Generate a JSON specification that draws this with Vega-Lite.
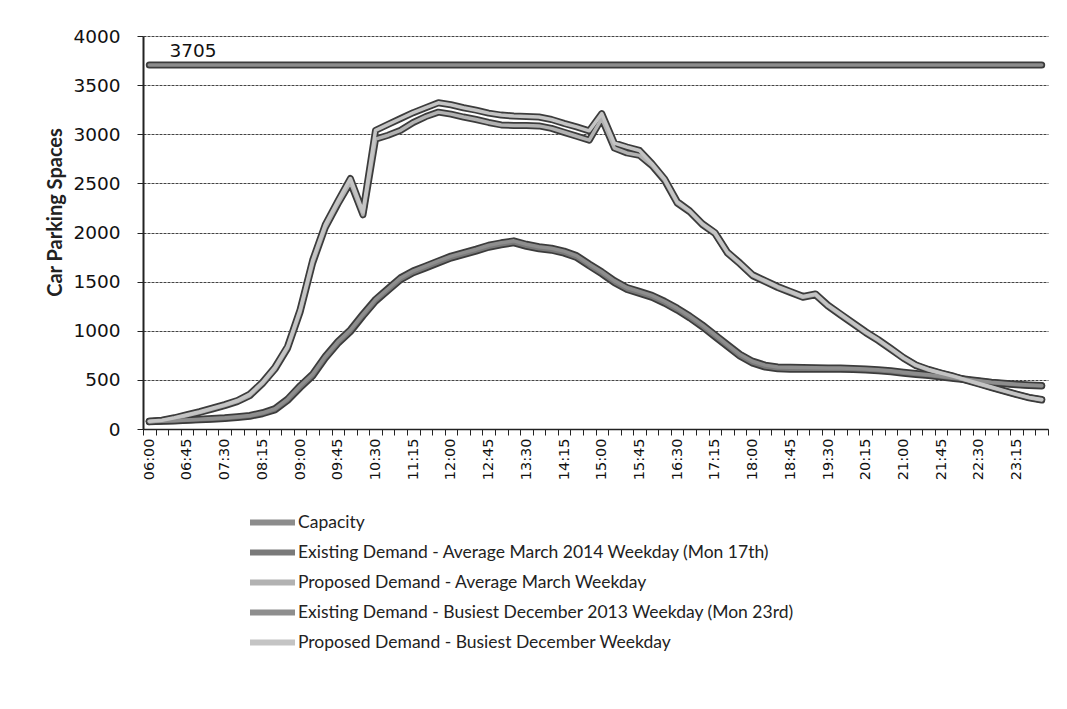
{
  "$schema": "https://vega.github.io/schema/vega-lite/v6.json",
  "width": 905,
  "height": 393,
  "autosize": {"type": "none"},
  "padding": {"left": 143, "top": 36, "right": 19, "bottom": 280},
  "background": "white",
  "config": {"view": {"stroke": null}, "font": "DejaVu Sans"},
  "data": {
    "values": [
      {"t": "06:00", "c": 3705, "em": 75, "ed": 80, "pm": 75, "pd": 80},
      {"t": "06:15", "c": 3705, "em": 78, "ed": 82, "pm": 85, "pd": 90},
      {"t": "06:30", "c": 3705, "em": 82, "ed": 86, "pm": 108, "pd": 114},
      {"t": "06:45", "c": 3705, "em": 88, "ed": 92, "pm": 138, "pd": 145},
      {"t": "07:00", "c": 3705, "em": 95, "ed": 100, "pm": 168, "pd": 176},
      {"t": "07:15", "c": 3705, "em": 100, "ed": 106, "pm": 203, "pd": 212},
      {"t": "07:30", "c": 3705, "em": 108, "ed": 114, "pm": 238, "pd": 248},
      {"t": "07:45", "c": 3705, "em": 118, "ed": 125, "pm": 278, "pd": 290},
      {"t": "08:00", "c": 3705, "em": 130, "ed": 138, "pm": 340, "pd": 355},
      {"t": "08:15", "c": 3705, "em": 155, "ed": 165, "pm": 460, "pd": 475},
      {"t": "08:30", "c": 3705, "em": 195, "ed": 208, "pm": 610, "pd": 630},
      {"t": "08:45", "c": 3705, "em": 290, "ed": 305, "pm": 820, "pd": 840},
      {"t": "09:00", "c": 3705, "em": 420, "ed": 440, "pm": 1190, "pd": 1215},
      {"t": "09:15", "c": 3705, "em": 540, "ed": 560, "pm": 1690, "pd": 1720},
      {"t": "09:30", "c": 3705, "em": 720, "ed": 740, "pm": 2050, "pd": 2080},
      {"t": "09:45", "c": 3705, "em": 870, "ed": 890, "pm": 2290, "pd": 2320},
      {"t": "10:00", "c": 3705, "em": 990, "ed": 1010, "pm": 2510, "pd": 2550},
      {"t": "10:15", "c": 3705, "em": 1150, "ed": 1170, "pm": 2180, "pd": 2210},
      {"t": "10:30", "c": 3705, "em": 1300, "ed": 1320, "pm": 2950, "pd": 3040},
      {"t": "10:45", "c": 3705, "em": 1410, "ed": 1430, "pm": 2990, "pd": 3100},
      {"t": "11:00", "c": 3705, "em": 1520, "ed": 1540, "pm": 3040, "pd": 3160},
      {"t": "11:15", "c": 3705, "em": 1590, "ed": 1610, "pm": 3120, "pd": 3220},
      {"t": "11:30", "c": 3705, "em": 1640, "ed": 1660, "pm": 3180, "pd": 3270},
      {"t": "11:45", "c": 3705, "em": 1690, "ed": 1710, "pm": 3225, "pd": 3320},
      {"t": "12:00", "c": 3705, "em": 1740, "ed": 1760, "pm": 3205, "pd": 3300},
      {"t": "12:15", "c": 3705, "em": 1775, "ed": 1795, "pm": 3175, "pd": 3270},
      {"t": "12:30", "c": 3705, "em": 1810, "ed": 1830, "pm": 3150, "pd": 3245},
      {"t": "12:45", "c": 3705, "em": 1850, "ed": 1870, "pm": 3120, "pd": 3215},
      {"t": "13:00", "c": 3705, "em": 1875, "ed": 1895, "pm": 3095, "pd": 3195},
      {"t": "13:15", "c": 3705, "em": 1895, "ed": 1915, "pm": 3090, "pd": 3185},
      {"t": "13:30", "c": 3705, "em": 1860, "ed": 1880, "pm": 3090, "pd": 3180},
      {"t": "13:45", "c": 3705, "em": 1835, "ed": 1855, "pm": 3085, "pd": 3175},
      {"t": "14:00", "c": 3705, "em": 1820, "ed": 1840, "pm": 3060, "pd": 3150},
      {"t": "14:15", "c": 3705, "em": 1790, "ed": 1810, "pm": 3020, "pd": 3110},
      {"t": "14:30", "c": 3705, "em": 1745, "ed": 1765, "pm": 2980, "pd": 3075},
      {"t": "14:45", "c": 3705, "em": 1660, "ed": 1680, "pm": 2940, "pd": 3035},
      {"t": "15:00", "c": 3705, "em": 1580, "ed": 1600, "pm": 3160, "pd": 3210},
      {"t": "15:15", "c": 3705, "em": 1490, "ed": 1510, "pm": 2860, "pd": 2910},
      {"t": "15:30", "c": 3705, "em": 1420, "ed": 1440, "pm": 2810, "pd": 2870},
      {"t": "15:45", "c": 3705, "em": 1380, "ed": 1400, "pm": 2785, "pd": 2835},
      {"t": "16:00", "c": 3705, "em": 1340, "ed": 1360, "pm": 2680, "pd": 2700},
      {"t": "16:15", "c": 3705, "em": 1280, "ed": 1300, "pm": 2530, "pd": 2545},
      {"t": "16:30", "c": 3705, "em": 1210, "ed": 1230, "pm": 2300, "pd": 2315},
      {"t": "16:45", "c": 3705, "em": 1130, "ed": 1150, "pm": 2210, "pd": 2220},
      {"t": "17:00", "c": 3705, "em": 1040, "ed": 1060, "pm": 2080, "pd": 2090},
      {"t": "17:15", "c": 3705, "em": 940, "ed": 960, "pm": 1990, "pd": 2000},
      {"t": "17:30", "c": 3705, "em": 840, "ed": 860, "pm": 1790, "pd": 1800},
      {"t": "17:45", "c": 3705, "em": 740, "ed": 760, "pm": 1680, "pd": 1690},
      {"t": "18:00", "c": 3705, "em": 670, "ed": 690, "pm": 1560, "pd": 1570},
      {"t": "18:15", "c": 3705, "em": 630, "ed": 650, "pm": 1500, "pd": 1510},
      {"t": "18:30", "c": 3705, "em": 612, "ed": 632, "pm": 1440, "pd": 1450},
      {"t": "18:45", "c": 3705, "em": 608, "ed": 628, "pm": 1390, "pd": 1400},
      {"t": "19:00", "c": 3705, "em": 608, "ed": 626, "pm": 1340, "pd": 1350},
      {"t": "19:15", "c": 3705, "em": 608, "ed": 624, "pm": 1365, "pd": 1375},
      {"t": "19:30", "c": 3705, "em": 608, "ed": 622, "pm": 1250, "pd": 1260},
      {"t": "19:45", "c": 3705, "em": 608, "ed": 620, "pm": 1160, "pd": 1170},
      {"t": "20:00", "c": 3705, "em": 605, "ed": 616, "pm": 1070, "pd": 1080},
      {"t": "20:15", "c": 3705, "em": 600, "ed": 610, "pm": 980, "pd": 990},
      {"t": "20:30", "c": 3705, "em": 592, "ed": 602, "pm": 900, "pd": 910},
      {"t": "20:45", "c": 3705, "em": 582, "ed": 592, "pm": 810, "pd": 820},
      {"t": "21:00", "c": 3705, "em": 568, "ed": 578, "pm": 720, "pd": 728},
      {"t": "21:15", "c": 3705, "em": 555, "ed": 565, "pm": 645, "pd": 652},
      {"t": "21:30", "c": 3705, "em": 545, "ed": 553, "pm": 600, "pd": 606},
      {"t": "21:45", "c": 3705, "em": 530, "ed": 538, "pm": 565, "pd": 570},
      {"t": "22:00", "c": 3705, "em": 515, "ed": 522, "pm": 532, "pd": 537},
      {"t": "22:15", "c": 3705, "em": 500, "ed": 507, "pm": 495, "pd": 500},
      {"t": "22:30", "c": 3705, "em": 485, "ed": 492, "pm": 458, "pd": 463},
      {"t": "22:45", "c": 3705, "em": 470, "ed": 477, "pm": 422, "pd": 427},
      {"t": "23:00", "c": 3705, "em": 460, "ed": 466, "pm": 385, "pd": 390},
      {"t": "23:15", "c": 3705, "em": 450, "ed": 456, "pm": 350, "pd": 355},
      {"t": "23:30", "c": 3705, "em": 443, "ed": 448, "pm": 318, "pd": 322},
      {"t": "23:45", "c": 3705, "em": 438, "ed": 442, "pm": 295, "pd": 300}
    ]
  },
  "transform": [{"fold": ["c", "em", "pm", "ed", "pd"], "as": ["k", "v"]}],
  "encoding": {
    "x": {
      "field": "t",
      "type": "ordinal",
      "bandPosition": 0.5,
      "scale": {"type": "band", "paddingInner": 0, "paddingOuter": 0},
      "axis": {
        "title": null,
        "grid": false,
        "labelAngle": -90,
        "labelExpr": "indexof('06:00 06:45 07:30 08:15 09:00 09:45 10:30 11:15 12:00 12:45 13:30 14:15 15:00 15:45 16:30 17:15 18:00 18:45 19:30 20:15 21:00 21:45 22:30 23:15', datum.value) >= 0 ? datum.value : ''",
        "tickBand": "extent",
        "tickSize": 6,
        "tickColor": "#222",
        "domainColor": "#222",
        "domainWidth": 1.5,
        "labelFont": "DejaVu Sans",
        "labelFontSize": 14.5,
        "labelColor": "#111",
        "labelPadding": 3
      }
    },
    "y": {
      "field": "v",
      "type": "quantitative",
      "scale": {"domain": [0, 4000], "nice": false},
      "axis": {
        "values": [0, 500, 1000, 1500, 2000, 2500, 3000, 3500, 4000],
        "format": "d",
        "grid": true,
        "gridColor": "#444",
        "gridDash": [3, 1],
        "gridWidth": 1,
        "domainColor": "#222",
        "domainWidth": 2,
        "tickColor": "#222",
        "tickSize": 6,
        "labelFont": "DejaVu Sans",
        "labelFontSize": 18.5,
        "labelColor": "#111",
        "labelPadding": 17,
        "title": "Car Parking Spaces",
        "titleFont": "Lato",
        "titleFontSize": 20,
        "titleFontWeight": "bold",
        "titleColor": "#222",
        "titlePadding": 7,
        "titleY": 176
      }
    }
  },
  "layer": [
    {
      "mark": {"type": "line", "strokeWidth": 7, "color": "#3c3c3c", "strokeJoin": "round", "strokeCap": "round"},
      "encoding": {"detail": {"field": "k"}}
    },
    {
      "mark": {"type": "line", "strokeWidth": 3.5, "strokeJoin": "round", "strokeCap": "round"},
      "encoding": {
        "color": {
          "field": "k",
          "type": "nominal",
          "scale": {
            "domain": ["c", "em", "pm", "ed", "pd"],
            "range": ["#8c8c8c", "#7a7a7a", "#b2b2b2", "#8e8e8e", "#c4c4c4"]
          },
          "legend": {
            "orient": "none",
            "legendX": 119,
            "legendY": 476,
            "direction": "vertical",
            "title": null,
            "padding": 0,
            "symbolType": "M-3,0H3",
            "symbolSize": 225,
            "symbolStrokeWidth": 6,
            "labelFont": "Lato",
            "labelFontSize": 17.5,
            "labelColor": "#222",
            "labelOffset": 15,
            "labelLimit": 0,
            "rowPadding": 5,
            "labelExpr": "datum.label == 'c' ? 'Capacity' : datum.label == 'em' ? 'Existing Demand - Average March 2014 Weekday (Mon 17th)' : datum.label == 'pm' ? 'Proposed Demand - Average March Weekday' : datum.label == 'ed' ? 'Existing Demand - Busiest December 2013 Weekday (Mon 23rd)' : 'Proposed Demand - Busiest December Weekday'"
          }
        }
      }
    },
    {
      "transform": [{"filter": "datum.k == 'c' && datum.t == '06:45'"}],
      "mark": {"type": "text", "font": "DejaVu Sans", "fontSize": 18.5, "align": "center", "baseline": "bottom", "dx": 6, "dy": -4, "color": "#111"},
      "encoding": {"text": {"field": "v", "type": "quantitative"}}
    }
  ]
}
